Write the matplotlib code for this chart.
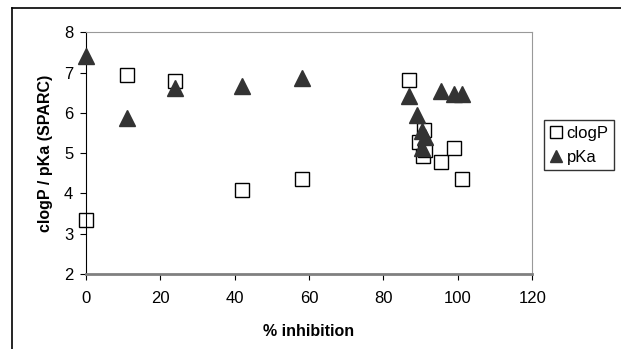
import matplotlib
matplotlib.use("Agg")
import matplotlib.pyplot as plt
from matplotlib.lines import Line2D

# data
clogp_x = [0, 11, 24, 42, 58, 87, 89.5, 90.8, 90.6, 91.3, 95.5, 99, 101]
clogp_y = [3.33, 6.95, 6.80, 4.08, 4.35, 6.81, 5.28, 5.57, 4.93, 5.07, 4.79, 5.12, 4.35]

pka_x = [0, 11, 24, 42, 58, 87, 89, 90.3, 91.3, 90.3, 95.5, 99, 101]
pka_y = [7.42, 5.87, 6.62, 6.67, 6.86, 6.42, 5.94, 5.55, 5.40, 5.14, 6.54, 6.48, 6.48]

x_ticks = [0, 20, 40, 60, 80, 100, 120]
y_ticks = [2, 3, 4, 5, 6, 7, 8]

plt.rcParams['font.family'] = ['Liberation Sans', 'DejaVu Sans']

fig = plt.figure(figsize=(6.21, 3.49), dpi=100)
ax = fig.add_axes([0.138, 0.215, 0.719, 0.692])

ax.plot(pka_x, pka_y, linestyle='none', marker='^', markersize=11,
        color='#333333', markeredgecolor='#333333', label='pKa', zorder=3,
        clip_on=False)
ax.plot(clogp_x, clogp_y, linestyle='none', marker='s', markersize=10,
        markerfacecolor='white', markeredgecolor='black', markeredgewidth=1,
        label='clogP', zorder=2, clip_on=False)

ax.set_xlim(0, 120)
ax.set_ylim(2, 8)
ax.set_xticks(x_ticks)
ax.set_yticks(y_ticks)
ax.tick_params(direction='out', length=4, labelsize=12, color='black')
ax.tick_params(axis='x', pad=8)
ax.tick_params(axis='y', pad=5)

ax.spines['left'].set_color('black')
ax.spines['bottom'].set_color('#808080')
ax.spines['bottom'].set_linewidth(2)
ax.spines['top'].set_color('#999999')
ax.spines['right'].set_color('#999999')

ax.set_xlabel('% inhibition', fontsize=11.5, fontweight='bold', labelpad=13)
ax.set_ylabel('clogP / pKa (SPARC)', fontsize=11.5, fontweight='bold', labelpad=8)

handles = [
    Line2D([], [], linestyle='none', marker='s', markersize=8,
           markerfacecolor='white', markeredgecolor='black'),
    Line2D([], [], linestyle='none', marker='^', markersize=9,
           color='#333333'),
]
leg = fig.legend(handles, ['clogP', 'pKa'], loc='upper left',
                 bbox_to_anchor=(0.876, 0.655), fontsize=12, frameon=True,
                 fancybox=False, edgecolor='black', handlelength=0.8,
                 handletextpad=0.2, borderpad=0.35, labelspacing=0.5,
                 borderaxespad=0)
leg.get_frame().set_linewidth(1)

# outer chart frame (cut off at right and bottom)
fig.add_artist(Line2D([11.5 / 621, 11.5 / 621], [0, 1 - 7.5 / 349],
                      color='black', linewidth=1.2))
fig.add_artist(Line2D([11.5 / 621, 1], [1 - 7.5 / 349, 1 - 7.5 / 349],
                      color='black', linewidth=1.2))

fig.savefig('out.png', dpi=100)
